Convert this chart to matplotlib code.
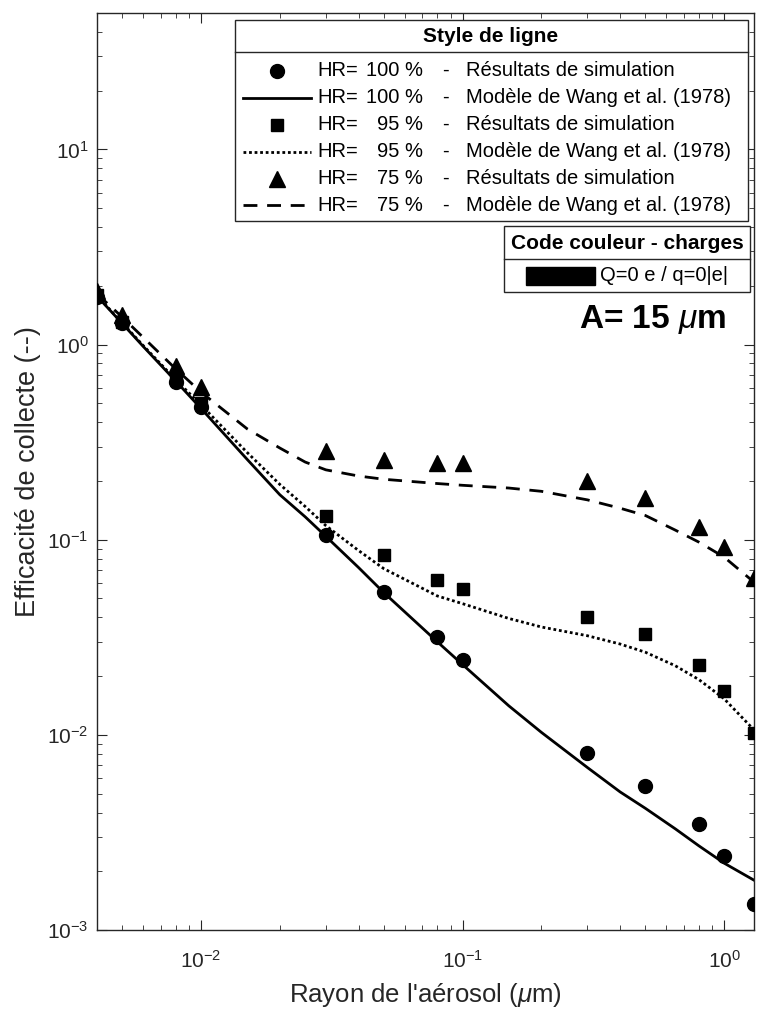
import numpy as np
import matplotlib
matplotlib.use('Agg')
import matplotlib.pyplot as plt
from matplotlib.lines import Line2D
from matplotlib.patches import Rectangle

plt.rcParams['font.family'] = ['Liberation Sans', 'DejaVu Sans']
plt.rcParams['mathtext.fontset'] = 'custom'
plt.rcParams['mathtext.rm'] = 'Liberation Sans'
plt.rcParams['mathtext.it'] = 'Liberation Sans:italic'
plt.rcParams['mathtext.bf'] = 'Liberation Sans:bold'

# Résultats de simulation (rayon en µm)
rayon = [0.004, 0.005, 0.008, 0.01, 0.03, 0.05, 0.08, 0.1, 0.3, 0.5, 0.8, 1.0, 1.3]
sim_hr100 = [1.75, 1.29, 0.64, 0.479, 0.106, 0.0537, 0.0316, 0.0243, 0.0081, 0.0055, 0.0035, 0.0024, 0.00136]
sim_hr95 = [1.80, 1.31, 0.67, 0.50, 0.133, 0.083, 0.0618, 0.0556, 0.040, 0.0327, 0.0227, 0.0167, 0.0102]
sim_hr75 = [1.88, 1.41, 0.78, 0.606, 0.284, 0.255, 0.246, 0.246, 0.199, 0.163, 0.116, 0.0913, 0.064]

# Modèle de Wang et al. (1978)
rayon_wang = [0.004, 0.005, 0.006, 0.008, 0.01, 0.015, 0.02, 0.025, 0.03, 0.04, 0.05, 0.08, 0.1,
              0.15, 0.2, 0.3, 0.4, 0.5, 0.65, 0.8, 1.0, 1.3]
wang_hr100 = [1.77, 1.28, 0.98, 0.65, 0.47, 0.258, 0.17, 0.131, 0.104, 0.072, 0.0535, 0.030, 0.0229,
              0.0141, 0.0103, 0.0068, 0.0051, 0.0042, 0.0033, 0.0027, 0.0022, 0.0018]
wang_hr95 = [1.78, 1.29, 0.99, 0.66, 0.49, 0.28, 0.192, 0.148, 0.118, 0.088, 0.071, 0.0515, 0.047,
             0.0395, 0.0357, 0.0322, 0.0292, 0.0265, 0.0226, 0.0192, 0.0153, 0.0106]
wang_hr75 = [1.82, 1.38, 1.09, 0.75, 0.57, 0.37, 0.295, 0.25, 0.228, 0.212, 0.204, 0.194, 0.190,
             0.184, 0.177, 0.160, 0.145, 0.133, 0.112, 0.0972, 0.0814, 0.0606]

W, H = 758, 1009
fig = plt.figure(figsize=(W / 100, H / 100), dpi=100)
ax = fig.add_axes([97 / W, 1 - 930 / H, (754 - 97) / W, (930 - 13) / H])

gris = '#262626'
lw = 2.0
ax.plot(rayon_wang, wang_hr100, color='k', lw=lw, linestyle='-')
ax.plot(rayon_wang, wang_hr95, color='k', lw=lw, linestyle=(0, (1, 1)))
ax.plot(rayon_wang, wang_hr75, color='k', lw=lw, linestyle=(0, (5, 3.5)))
ax.plot(rayon, sim_hr100, 'o', color='k', ms=10, zorder=5)
ax.plot(rayon, sim_hr95, 's', color='k', ms=8.5, zorder=5)
ax.plot(rayon, sim_hr75, '^', color='k', ms=12, zorder=5)

ax.set_xscale('log')
ax.set_yscale('log')
ax.set_xlim(0.004, 1.3)
ax.set_ylim(1e-3, 50)

for s in ax.spines.values():
    s.set_color(gris)
    s.set_linewidth(1.0)
ax.tick_params(which='both', direction='in', top=True, right=True, colors=gris, labelsize=15)
ax.tick_params(which='major', length=7)
ax.tick_params(which='minor', length=3.5)
ax.tick_params(axis='x', pad=14)
ax.tick_params(axis='y', pad=6)

ax.set_xlabel(r"Rayon de l'aérosol ($\mu$m)", fontsize=18.5, color=gris)
ax.set_ylabel("Efficacité de collecte (--)", fontsize=19.5, color=gris)
ax.xaxis.label.set_va('center')
ax.yaxis.label.set_va('center')
ax.xaxis.set_label_coords(0.5, -0.071)
ax.yaxis.set_label_coords(-0.105, 0.5)


def fx(x):
    return x / W


def fy(y):
    return 1 - y / H


# Légende "Style de ligne"
fig.add_artist(Rectangle((fx(235), fy(220.5)), fx(747.5) - fx(235), fy(20) - fy(220.5),
                         transform=fig.transFigure, facecolor='white', edgecolor=gris, lw=1, zorder=10))
fig.add_artist(Line2D([fx(235), fx(747.5)], [fy(52), fy(52)], color=gris, lw=1, zorder=11))
fig.text(fx(491), fy(37), 'Style de ligne', ha='center', va='center', fontsize=15,
         fontweight='bold', zorder=12)

rows_y = [70.7, 97.6, 124.6, 151.5, 178.5, 205.4]
rows = [('o', 10, None, '100', 'Résultats de simulation'),
        (None, 0, '-', '100', 'Modèle de Wang et al. (1978)'),
        ('s', 8.5, None, '95', 'Résultats de simulation'),
        (None, 0, (0, (1, 1)), '95', 'Modèle de Wang et al. (1978)'),
        ('^', 12, None, '75', 'Résultats de simulation'),
        (None, 0, (0, (5, 3.5)), '75', 'Modèle de Wang et al. (1978)')]
for yy, (mk, ms, ls, hr, desc) in zip(rows_y, rows):
    if mk is not None:
        fig.add_artist(Line2D([fx(276.5)], [fy(yy)], marker=mk, ms=ms, color='k',
                              linestyle='none', zorder=12))
    else:
        fig.add_artist(Line2D([fx(243), fx(311)], [fy(yy), fy(yy)], color='k', lw=lw,
                              linestyle=ls, zorder=12))
    fig.text(fx(317), fy(yy), 'HR=', ha='left', va='center', fontsize=14.5, zorder=12)
    fig.text(fx(423), fy(yy), hr + ' %', ha='right', va='center', fontsize=14.5, zorder=12)
    fig.text(fx(445.5), fy(yy), '-', ha='center', va='center', fontsize=14.5, zorder=12)
    fig.text(fx(466), fy(yy), desc, ha='left', va='center', fontsize=14.5, zorder=12)

# Légende "Code couleur - charges"
fig.add_artist(Rectangle((fx(504.4), fy(291.6)), fx(749.5) - fx(504.4), fy(226) - fy(291.6),
                         transform=fig.transFigure, facecolor='white', edgecolor=gris, lw=1, zorder=10))
fig.add_artist(Line2D([fx(504.4), fx(749.5)], [fy(258.6), fy(258.6)], color=gris, lw=1, zorder=11))
fig.text(fx(627), fy(243), 'Code couleur - charges', ha='center', va='center', fontsize=15,
         fontweight='bold', zorder=12)
fig.add_artist(Rectangle((fx(525.6), fy(284.5)), fx(595.3) - fx(525.6), fy(266.7) - fy(284.5),
                         transform=fig.transFigure, facecolor='k', edgecolor='k', zorder=12))
fig.text(fx(600.4), fy(275.5), 'Q=0 e / q=0|e|', ha='left', va='center', fontsize=14.5, zorder=12)

fig.text(fx(653), fy(320), r'A= 15 $\mu$m', ha='center', va='center', fontsize=24,
         fontweight='bold', zorder=12)

plt.savefig('out.png', dpi=100)
